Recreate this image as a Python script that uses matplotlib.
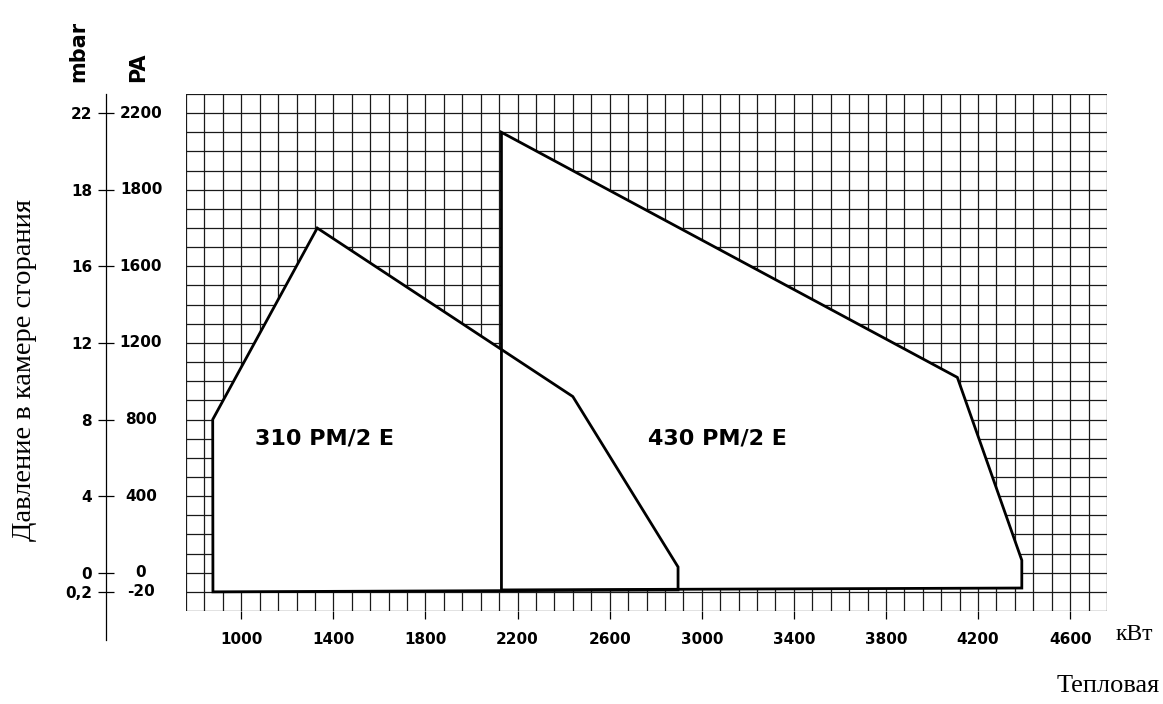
import numpy as np
import matplotlib
matplotlib.use('Agg')
import matplotlib.pyplot as plt
from matplotlib.patches import Polygon

# --- data (x in kW, y on the Pa scale of the grid) ---
burner_names = ['310 PM/2 E', '430 PM/2 E']
burner_310_kw = [877, 876, 1330, 2440, 2897, 2897]
burner_310_pa = [-100, 800, 1800, 920, 30, -90]
burner_430_kw = [2130, 2130, 4110, 4390, 4390]
burner_430_pa = [-90, 2300, 1020, 65, -80]
label_pos = [(1360, 700), (3070, 700)]

x_ticks = [1000, 1400, 1800, 2200, 2600, 3000, 3400, 3800, 4200, 4600]
y_ticks = [2400, 2000, 1600, 1200, 800, 400, 0, -100]
mbar_labels = ['22', '18', '16', '12', '8', '4', '0', '0,2']
pa_labels = ['2200', '1800', '1600', '1200', '800', '400', '0', '-20']

W, H = 1163, 704
fig = plt.figure(figsize=(W / 100, H / 100), dpi=100)
ax = fig.add_axes([186 / W, (H - 611) / H, 921 / W, 517 / H])
ax.set_xlim(760, 4760)
ax.set_ylim(-200, 2500)

# grid paper
for gx in np.arange(760, 4761, 80):
    ax.plot([gx, gx], [-200, 2500], color='#1a1a1a', lw=0.9, zorder=1)
for gy in np.arange(-200, 2501, 100):
    ax.plot([760, 4760], [gy, gy], color='#1a1a1a', lw=0.9, zorder=1)

# white fields, then outlines
polys = [list(zip(burner_310_kw, burner_310_pa)), list(zip(burner_430_kw, burner_430_pa))]
for p in polys:
    ax.add_patch(Polygon(p, closed=True, facecolor='white', edgecolor='none', zorder=2))
for p in polys:
    ax.add_patch(Polygon(p, closed=True, fill=False, edgecolor='black', lw=2.0,
                         joinstyle='miter', zorder=3))

for name, (lx, ly) in zip(burner_names, label_pos):
    ax.text(lx, ly, name, ha='center', va='center', fontsize=16,
            fontweight='bold', zorder=4)

# axes
for s in ['top', 'right', 'bottom']:
    ax.spines[s].set_visible(False)
ax.spines['left'].set_position(('outward', 57.6))
ax.spines['left'].set_bounds(-350, 2500)
ax.spines['left'].set_linewidth(0.9)

ax.set_xticks(x_ticks)
ax.set_xticklabels([str(v) for v in x_ticks], fontweight='bold', fontsize=11)
ax.tick_params(axis='x', direction='out', length=6, width=0.9, pad=9)

ax.set_yticks(y_ticks)
ax.set_yticklabels(mbar_labels, fontweight='bold', fontsize=11)
ax.tick_params(axis='y', direction='inout', length=12, width=0.9, pad=4)

for yv, lab in zip(y_ticks, pa_labels):
    ax.annotate(lab, xy=(0, yv), xycoords=ax.get_yaxis_transform(),
                xytext=(-32.4, 0), textcoords='offset points',
                ha='center', va='center', fontsize=11, fontweight='bold')

fig.text(78 / W, 1 - 82 / H, 'mbar', rotation=90, ha='center', va='bottom',
         fontsize=15, fontweight='bold')
fig.text(138 / W, 1 - 82 / H, 'PA', rotation=90, ha='center', va='bottom',
         fontsize=15, fontweight='bold')

fig.text(25 / W, 1 - 370 / H, 'Давление в камере сгорания', rotation=90,
         ha='center', va='center', fontsize=20.5, family='Liberation Serif')
fig.text(1134 / W, 1 - 635 / H, 'кВт', ha='center', va='center',
         fontsize=17, family='Liberation Serif')
fig.text(1160 / W, 1 - 686 / H, 'Тепловая', ha='right', va='center',
         fontsize=19, family='Liberation Serif')

fig.savefig('out.png', dpi=100)
